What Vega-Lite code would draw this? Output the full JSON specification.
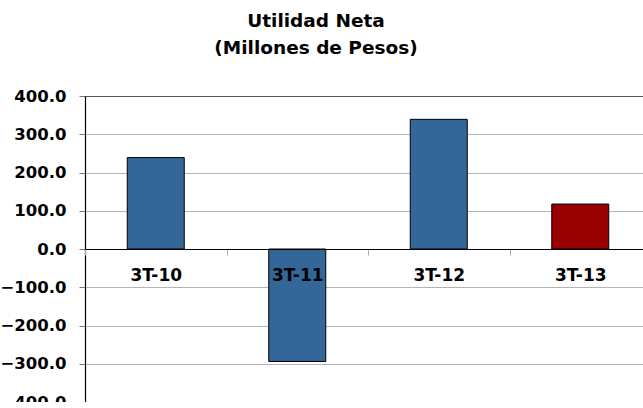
{
  "$schema": "https://vega.github.io/schema/vega-lite/v6.json",
  "autosize": "none",
  "padding": {"left": 85, "top": 96, "right": 0, "bottom": 0},
  "width": 566,
  "height": 306,
  "background": "white",
  "title": {
    "text": ["Utilidad Neta", "(Millones de Pesos)"],
    "font": "DejaVu Sans",
    "fontSize": 18.5,
    "fontWeight": "bold",
    "color": "black",
    "lineHeight": 27,
    "anchor": "middle",
    "frame": "group",
    "dx": -52,
    "offset": 31
  },
  "data": {
    "values": [
      {"periodo": "3T-10", "utilidad": 239, "tipo": "prev"},
      {"periodo": "3T-11", "utilidad": -294, "tipo": "prev"},
      {"periodo": "3T-12", "utilidad": 339, "tipo": "prev"},
      {"periodo": "3T-13", "utilidad": 117.5, "tipo": "actual"}
    ]
  },
  "config": {
    "view": {"stroke": "#555555", "strokeWidth": 1}
  },
  "mark": {"type": "bar", "stroke": "black", "strokeWidth": 1, "width": 57},
  "encoding": {
    "x": {
      "field": "periodo",
      "type": "nominal",
      "sort": null,
      "scale": {"paddingInner": 0, "paddingOuter": 0},
      "axis": {
        "title": null,
        "labelAngle": 0,
        "labelFont": "DejaVu Sans",
        "labelFontWeight": "bold",
        "labelFontSize": 17,
        "labelColor": "black",
        "labelPadding": 12,
        "offset": -153,
        "domainColor": "black",
        "domainWidth": 1.2,
        "tickBand": "extent",
        "tickColor": "#aaaaaa",
        "tickSize": 6,
        "zindex": 2
      }
    },
    "y": {
      "field": "utilidad",
      "type": "quantitative",
      "scale": {"domain": [-400, 400], "nice": false},
      "axis": {
        "title": null,
        "values": [-400, -300, -200, -100, 0, 100, 200, 300, 400],
        "format": ".1f",
        "labelFont": "DejaVu Sans",
        "labelFontWeight": "bold",
        "labelFontSize": 16.5,
        "labelColor": "black",
        "labelPadding": 13,
        "domainColor": "black",
        "domainWidth": 1.2,
        "tickColor": "#777777",
        "tickSize": 6,
        "gridColor": {
          "condition": {"test": "datum.value === 400 || datum.value === -400", "value": "#555555"},
          "value": "#b4b4b4"
        },
        "gridWidth": 1
      }
    },
    "color": {
      "field": "tipo",
      "type": "nominal",
      "scale": {"domain": ["prev", "actual"], "range": ["#336699", "#990000"]},
      "legend": null
    }
  }
}
